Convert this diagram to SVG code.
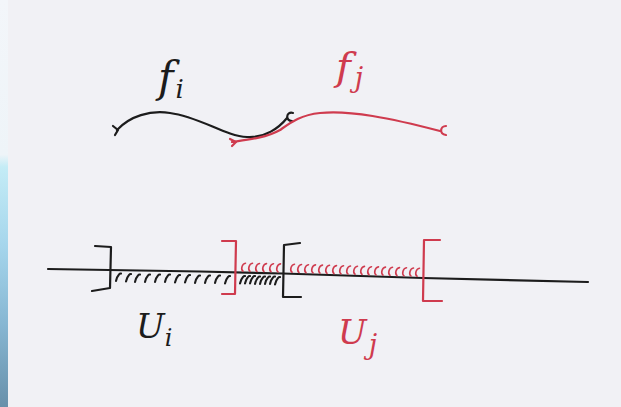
<svg xmlns="http://www.w3.org/2000/svg" xmlns:xlink="http://www.w3.org/1999/xlink" width="621" height="407" viewBox="0 0 621 407">
<defs>
<linearGradient id="strip" x1="0" y1="0" x2="0" y2="1">
<stop offset="0" stop-color="#f3f6fa"/>
<stop offset="0.38" stop-color="#eef4f8"/>
<stop offset="0.41" stop-color="#c4ecf6"/>
<stop offset="0.6" stop-color="#a6d6ec"/>
<stop offset="0.8" stop-color="#86b6d2"/>
<stop offset="1" stop-color="#6890aa"/>
</linearGradient>
<path id="hb" d="M0,8 C0.5,6 1.5,3 3,1.5 C3.5,0.8 4.2,0.4 5,0.5" fill="none" stroke="#1c1c1c" stroke-width="2.1" stroke-linecap="round"/>
<path id="hr" d="M4.5,0.5 C1,1 -0.5,6.5 2,8.5" fill="none" stroke="#cf3b4e" stroke-width="1.6" stroke-linecap="round"/>
<style>
.blk{fill:none;stroke:#1c1c1c;stroke-width:2.2;stroke-linecap:round;stroke-linejoin:round}
.red{fill:none;stroke:#cf3b4e;stroke-width:2.2;stroke-linecap:round;stroke-linejoin:round}
.tb{fill:#1c1c1c;font-family:"DejaVu Serif",serif;font-style:italic}
.tr{fill:#cf3b4e;font-family:"DejaVu Serif",serif;font-style:italic}
</style>
</defs>
<rect x="0" y="0" width="621" height="407" fill="#f1f1f5"/>
<rect x="0" y="0" width="8" height="407" fill="url(#strip)"/>

<g id="connectors">
<path id="fi-curve" class="blk" d="M117,130 C130,116 150,110 170,113 C200,117 225,136 247,137 C265,138 279,128 287,118"/>
<path class="blk" stroke-width="1.8" d="M113,126 L118,130 L115,135"/>
<path class="blk" stroke-width="1.8" d="M293,113 C286,111 285,121 292,121"/>
<path id="fj-curve" class="red" d="M232,142 C246,140 266,138 280,130 C290,123 300,115 320,113 C350,110 390,118 440,131"/>
<path class="red" stroke-width="1.6" d="M230,139 L236,142 L232,146"/>
<path class="red" stroke-width="1.8" d="M446,126 C440,126 439,134 446,135"/>
<path id="axis" class="blk" d="M48,269 L200,271.5 L283,273.5 L423,278 L588,282"/>
</g>

<g id="hatch-black">
<use xlink:href="#hb" x="116" y="273"/>
<use xlink:href="#hb" x="126" y="273.5"/>
<use xlink:href="#hb" x="135" y="274"/>
<use xlink:href="#hb" x="145" y="274"/>
<use xlink:href="#hb" x="155" y="274"/>
<use xlink:href="#hb" x="165" y="274"/>
<use xlink:href="#hb" x="175" y="274.5"/>
<use xlink:href="#hb" x="185" y="274.5"/>
<use xlink:href="#hb" x="195" y="275"/>
<use xlink:href="#hb" x="205" y="275"/>
<use xlink:href="#hb" x="215" y="275"/>
<use xlink:href="#hb" x="225" y="275.5"/>
<use xlink:href="#hb" x="240" y="275.5"/>
<use xlink:href="#hb" x="245" y="275.5"/>
<use xlink:href="#hb" x="250" y="275.5"/>
<use xlink:href="#hb" x="255" y="276"/>
<use xlink:href="#hb" x="260" y="276"/>
<use xlink:href="#hb" x="265" y="276"/>
<use xlink:href="#hb" x="270" y="276"/>
<use xlink:href="#hb" x="275" y="276.5"/>
</g>

<g id="hatch-red">
<use xlink:href="#hr" x="241" y="262.7"/>
<use xlink:href="#hr" x="248" y="262.8"/>
<use xlink:href="#hr" x="255" y="263"/>
<use xlink:href="#hr" x="262" y="263.1"/>
<use xlink:href="#hr" x="269" y="263.2"/>
<use xlink:href="#hr" x="276" y="263.4"/>
<use xlink:href="#hr" x="290" y="263.7"/>
<use xlink:href="#hr" x="297" y="264"/>
<use xlink:href="#hr" x="304" y="264.2"/>
<use xlink:href="#hr" x="311" y="264.4"/>
<use xlink:href="#hr" x="318" y="264.6"/>
<use xlink:href="#hr" x="325" y="264.8"/>
<use xlink:href="#hr" x="332" y="265.1"/>
<use xlink:href="#hr" x="339" y="265.3"/>
<use xlink:href="#hr" x="346" y="265.5"/>
<use xlink:href="#hr" x="353" y="265.7"/>
<use xlink:href="#hr" x="360" y="265.9"/>
<use xlink:href="#hr" x="367" y="266.2"/>
<use xlink:href="#hr" x="374" y="266.4"/>
<use xlink:href="#hr" x="381" y="266.6"/>
<use xlink:href="#hr" x="388" y="266.8"/>
<use xlink:href="#hr" x="395" y="267.1"/>
<use xlink:href="#hr" x="402" y="267.3"/>
<use xlink:href="#hr" x="409" y="267.5"/>
<use xlink:href="#hr" x="415" y="267.7"/>
</g>

<g id="bracket-Ui-left"><path class="blk" stroke-width="2.4" d="M95,246 L111,247 L110,288 L92,291"/></g>
<g id="bracket-Ui-right"><path class="red" stroke-width="2.4" d="M222,241 L236,241 L235,294 L222,294"/></g>
<g id="bracket-Uj-left"><path class="blk" stroke-width="2.4" d="M300,243 L284,245 L283,297 L301,297"/></g>
<g id="bracket-Uj-right"><path class="red" stroke-width="2.4" d="M440,240 L424,240 L423,301 L442,301"/></g>

<g id="label-fi"><text class="tb" x="158" y="92" font-size="42">f<tspan font-size="26" dx="2" dy="6">i</tspan></text></g>
<g id="label-fj"><text class="tr" x="336" y="80" font-size="40">f<tspan font-size="27" dx="4" dy="7">j</tspan></text></g>
<g id="label-Ui"><text class="tb" x="136" y="338" font-size="34">U<tspan font-size="24" dx="0" dy="8">i</tspan></text></g>
<g id="label-Uj"><text class="tr" x="338" y="344" font-size="34">U<tspan font-size="27" dx="2" dy="10">j</tspan></text></g>
</svg>
